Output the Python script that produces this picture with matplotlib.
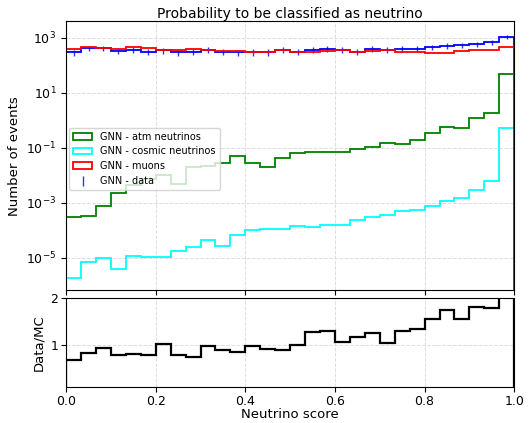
import numpy as np
import matplotlib
matplotlib.use('Agg')
import matplotlib.pyplot as plt
from matplotlib.ticker import MultipleLocator

# 30 bins of neutrino score between 0 and 1
edges = np.linspace(0, 1, 31)
centers = 0.5 * (edges[1:] + edges[:-1])

atm_nu = [2.9e-4, 3.2e-4, 7.4e-4, 2.2e-3, 4.3e-3, 7.4e-3, 1.0e-2, 4.6e-3, 1.95e-2, 2.2e-2,
          2.75e-2, 4.9e-2, 2.75e-2, 1.95e-2, 4.4e-2, 6.5e-2, 7.2e-2, 7.2e-2, 6.8e-2, 9.1e-2,
          0.11, 0.145, 0.138, 0.19, 0.35, 0.56, 0.52, 1.16, 1.8, 47.0]
cosmic_nu = [1.9e-6, 7.1e-6, 1.0e-5, 3.9e-6, 1.2e-5, 1.1e-5, 1.1e-5, 1.8e-5, 2.5e-5, 4.3e-5,
             2.7e-5, 6.8e-5, 9.8e-5, 1.15e-4, 1.15e-4, 1.4e-4, 1.3e-4, 1.5e-4, 1.6e-4, 2.3e-4,
             3.0e-4, 3.6e-4, 5.0e-4, 5.6e-4, 7.6e-4, 1.15e-3, 1.5e-3, 3.0e-3, 6.3e-3, 0.52]
muons = [400, 470, 425, 400, 445, 415, 345, 370, 400, 365,
         340, 340, 300, 315, 365, 315, 290, 330, 365, 300,
         340, 365, 300, 300, 275, 275, 340, 365, 370, 445]
data = [290, 425, 415, 340, 365, 310, 345, 290, 310, 365,
        315, 295, 300, 300, 365, 315, 365, 400, 365, 315,
        400, 365, 400, 400, 445, 510, 535, 590, 690, 1070]
data_rel_err = [0.25, 0.22, 0.22, 0.25, 0.24, 0.25, 0.24, 0.26, 0.25, 0.24,
                0.25, 0.26, 0.26, 0.26, 0.24, 0.25, 0.24, 0.23, 0.24, 0.25,
                0.23, 0.24, 0.23, 0.23, 0.22, 0.21, 0.21, 0.2, 0.19, 0.16]
ratio = [0.70, 0.84, 0.94, 0.80, 0.82, 0.79, 1.03, 0.79, 0.75, 0.99,
         0.90, 0.86, 0.99, 0.93, 0.90, 1.00, 1.27, 1.29, 1.07, 1.18,
         1.26, 1.05, 1.31, 1.34, 1.56, 1.74, 1.55, 1.81, 1.79, 2.4]
main_yticks = [1e-5, 1e-3, 1e-1, 1e1, 1e3]

fig = plt.figure(figsize=(5.29, 4.23), dpi=100)
ax = fig.add_axes([0.125, 0.314, 0.847, 0.636])
axr = fig.add_axes([0.125, 0.085, 0.847, 0.211], sharex=ax)

grid_kw = dict(color='#dddddd', linestyle='--', linewidth=0.7)

ax.hist(centers, bins=edges, weights=data, histtype='step', color='blue', lw=1.3)
ax.errorbar(centers, data, yerr=np.array(data) * np.array(data_rel_err), fmt='none',
            ecolor='blue', elinewidth=1.0, alpha=0.8, label='GNN - data')
ax.hist(centers, bins=edges, weights=atm_nu, histtype='step', color='green', lw=1.3,
        label='GNN - atm neutrinos')
ax.hist(centers, bins=edges, weights=cosmic_nu, histtype='step', color='cyan', lw=1.3,
        label='GNN - cosmic neutrinos')
ax.hist(centers, bins=edges, weights=muons, histtype='step', color='red', lw=1.3,
        label='GNN - muons')

ax.set_yscale('log')
ax.set_ylim(6.6e-7, 4000)
ax.set_xlim(0, 1)
ax.set_yticks(main_yticks)
ax.yaxis.set_minor_locator(plt.NullLocator())
ax.xaxis.set_major_locator(MultipleLocator(0.2))
ax.tick_params(labelbottom=False, labelsize=9)
ax.grid(True, **grid_kw)
ax.set_ylabel('Number of events', fontsize=9.5)
ax.yaxis.set_label_coords(-0.1, 0.5)
ax.set_title('Probability to be classified as neutrino', fontsize=10, pad=2)

h, l = ax.get_legend_handles_labels()
order = [l.index(s) for s in ['GNN - atm neutrinos', 'GNN - cosmic neutrinos',
                              'GNN - muons', 'GNN - data']]
ax.legend([h[i] for i in order], [l[i] for i in order], loc='upper left',
          bbox_to_anchor=(0.0, 0.615), fontsize=7, borderaxespad=0.3)

axr.hist(centers, bins=edges, weights=ratio, histtype='step', color='black', lw=1.6)
axr.set_ylim(0.12, 2)
axr.set_yticks([1, 2])
axr.set_xlim(0, 1)
axr.xaxis.set_major_locator(MultipleLocator(0.2))
axr.tick_params(labelsize=9, pad=2)
axr.grid(True, **grid_kw)
axr.set_ylabel('Data/MC', fontsize=9.5)
axr.yaxis.set_label_coords(-0.047, 0.5)
axr.set_xlabel('Neutrino score', fontsize=9.5, labelpad=0)

fig.savefig('out.png', dpi=100)
